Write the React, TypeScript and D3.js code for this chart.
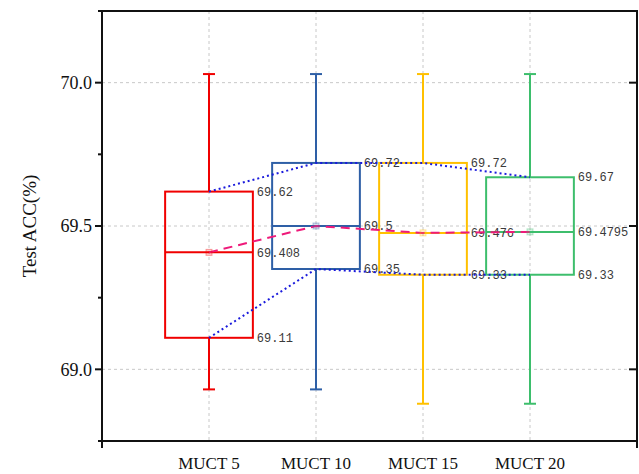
import React from 'react';
import * as d3 from 'd3';

const categories = ['MUCT 5', 'MUCT 10', 'MUCT 15', 'MUCT 20'];
const whiskerHigh = [70.03, 70.03, 70.03, 70.03];
const q3 = [69.62, 69.72, 69.72, 69.67];
const median = [69.408, 69.5, 69.476, 69.4795];
const q1 = [69.11, 69.35, 69.33, 69.33];
const whiskerLow = [68.93, 68.93, 68.88, 68.88];
const q3Labels = ['69.62', '69.72', '69.72', '69.67'];
const medianLabels = ['69.408', '69.5', '69.476', '69.4795'];
const q1Labels = ['69.11', '69.35', '69.33', '69.33'];
const boxColors = ['#f00000', '#2e5fa6', '#ffc000', '#3dbe6c'];
const yTicks = [69.0, 69.5, 70.0];
const yMinorTicks = [68.75, 69.25, 69.75, 70.25];

const W = 639;
const H = 474;
const left = 102;
const right = 637;
const top = 11;
const bottom = 441;

const App = () => {
  const x = d3.scaleLinear().domain([0, 5]).range([left, right]);
  const y = d3.scaleLinear().domain([68.75, 70.25]).range([bottom, top]);
  const boxHalf = x(0.41) - x(0);
  const capHalf = 6;

  const line = d3.line<[number, number]>()
    .x(d => x(d[0]))
    .y(d => y(d[1]));
  const pts = (vals: number[]) => vals.map((v, i) => [i + 1, v] as [number, number]);

  const labelStyle = { fontFamily: '"Liberation Mono", monospace', fontSize: 12, fill: '#3a3a3a' };

  return (
    <svg width={W} height={H} style={{ position: 'absolute', left: 0, top: 0 }}>
      <rect width={W} height={H} fill="#fff" />

      {/* grid */}
      {yTicks.map(t => (
        <line key={'gy' + t} x1={left} x2={right} y1={y(t)} y2={y(t)}
          stroke="#c8c8c8" strokeDasharray="3,3" strokeWidth={1} />
      ))}
      {categories.map((c, i) => (
        <line key={'gx' + c} x1={x(i + 1)} x2={x(i + 1)} y1={top} y2={bottom}
          stroke="#c8c8c8" strokeDasharray="3,3" strokeWidth={1} />
      ))}

      {/* boxes */}
      {categories.map((c, i) => {
        const cx = x(i + 1);
        const col = boxColors[i];
        return (
          <g key={c}>
            <line x1={cx} x2={cx} y1={y(whiskerHigh[i])} y2={y(q3[i])} stroke={col} strokeWidth={2} />
            <line x1={cx} x2={cx} y1={y(q1[i])} y2={y(whiskerLow[i])} stroke={col} strokeWidth={2} />
            <line x1={cx - capHalf} x2={cx + capHalf} y1={y(whiskerHigh[i])} y2={y(whiskerHigh[i])} stroke={col} strokeWidth={2} />
            <line x1={cx - capHalf} x2={cx + capHalf} y1={y(whiskerLow[i])} y2={y(whiskerLow[i])} stroke={col} strokeWidth={2} />
            <rect x={cx - boxHalf} y={y(q3[i])} width={boxHalf * 2} height={y(q1[i]) - y(q3[i])}
              fill="none" stroke={col} strokeWidth={2} />
            <line x1={cx - boxHalf} x2={cx + boxHalf} y1={y(median[i])} y2={y(median[i])} stroke={col} strokeWidth={2} />
          </g>
        );
      })}

      {/* value labels */}
      {categories.map((c, i) => {
        const lx = x(i + 1) + boxHalf + 4;
        return (
          <g key={'l' + c} style={labelStyle}>
            <text x={lx} y={y(q3[i])} dy="0.35em">{q3Labels[i]}</text>
            <text x={lx} y={y(median[i])} dy="0.35em">{medianLabels[i]}</text>
            <text x={lx} y={y(q1[i])} dy="0.35em">{q1Labels[i]}</text>
          </g>
        );
      })}

      {/* connecting lines */}
      <path d={line(pts(q3)) || ''} fill="none" stroke="#1a1adc" strokeWidth={2} strokeDasharray="2,3" />
      <path d={line(pts(q1)) || ''} fill="none" stroke="#1a1adc" strokeWidth={2} strokeDasharray="2,3" />
      <path d={line(pts(median)) || ''} fill="none" stroke="#ee1a7a" strokeWidth={2} strokeDasharray="9,6" />

      {/* mean markers */}
      {categories.map((c, i) => (
        <rect key={'m' + c} x={x(i + 1) - 3} y={y(median[i]) - 3} width={6} height={6}
          fill={boxColors[i]} fillOpacity={0.2} stroke={boxColors[i]} strokeOpacity={0.35} />
      ))}

      {/* frame */}
      <rect x={left} y={top} width={right - left} height={bottom - top} fill="none" stroke="#111" strokeWidth={2} />

      {/* y ticks */}
      {yTicks.map(t => (
        <g key={'yt' + t}>
          <line x1={left - 7} x2={left} y1={y(t)} y2={y(t)} stroke="#111" strokeWidth={2} />
          <line x1={right - 8} x2={right} y1={y(t)} y2={y(t)} stroke="#111" strokeWidth={2} />
          <text x={left - 10} y={y(t)} dy="0.35em" textAnchor="end"
            style={{ fontFamily: '"Liberation Serif", serif', fontSize: 18, fill: '#111' }}>
            {d3.format('.1f')(t)}
          </text>
        </g>
      ))}
      {yMinorTicks.map(t => (
        <line key={'ym' + t} x1={left - 4} x2={left} y1={y(t)} y2={y(t)} stroke="#111" strokeWidth={2} />
      ))}

      {/* x ticks and labels */}
      <line x1={left} x2={left} y1={bottom} y2={bottom + 7} stroke="#111" strokeWidth={2} />
      <line x1={right} x2={right} y1={bottom} y2={bottom + 7} stroke="#111" strokeWidth={2} />
      {categories.map((c, i) => (
        <text key={'xl' + c} x={x(i + 1)} y={463} dy="0.35em" textAnchor="middle"
          style={{ fontFamily: '"Liberation Serif", serif', fontSize: 17, fill: '#111' }}>
          {c}
        </text>
      ))}

      <text transform={`translate(29,${(top + bottom) / 2}) rotate(-90)`} textAnchor="middle" dy="0.35em"
        style={{ fontFamily: '"Liberation Serif", serif', fontSize: 19, fill: '#111' }}>
        Test ACC(%)
      </text>
    </svg>
  );
};

export default App;
